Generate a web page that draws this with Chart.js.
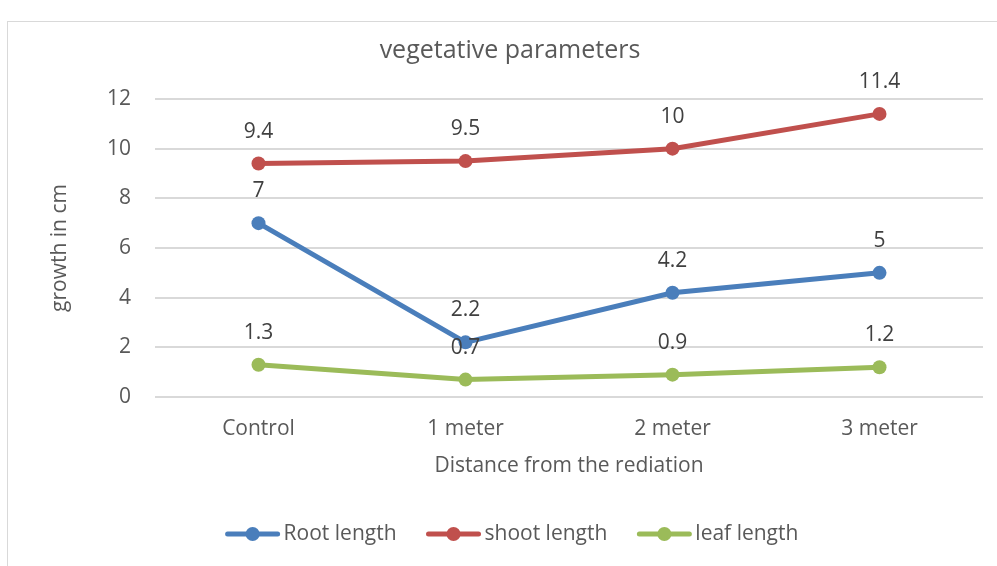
<!DOCTYPE html>
<html>
<head>
<meta charset="utf-8">
<script src="https://cdn.jsdelivr.net/npm/chart.js@4.4.1/dist/chart.umd.min.js"></script>
<style>
  html, body { margin: 0; padding: 0; background: #fff; overflow: hidden; }
  #frame { position: absolute; left: 7px; top: 21px; width: 1000px; height: 600px; border: 1px solid #d9d9d9; }
  #wrap { position: absolute; left: 0; top: 0; width: 997px; height: 566px; }
</style>
</head>
<body>
<div id="frame"></div>
<div id="wrap"><canvas id="chart"></canvas></div>
<script>
// Chart data
const chartTitle = 'vegetative parameters';
const categories = ['Control', '1 meter', '2 meter', '3 meter'];
const rootLength = [7, 2.2, 4.2, 5];
const shootLength = [9.4, 9.5, 10, 11.4];
const leafLength = [1.3, 0.7, 0.9, 1.2];
const yTicks = [0, 2, 4, 6, 8, 10, 12];

const COLORS = {
  root: '#4a7ebb',
  shoot: '#c0504d',
  leaf: '#9bbb59',
  text: '#595959',
  label: '#404040',
  grid: '#d9d9d9'
};
const FONT = "'Open Sans', 'Noto Sans', sans-serif";

// Title drawn by hand so it sits where the original one does
const titleText = {
  id: 'titleText',
  afterDraw(chart) {
    const ctx = chart.ctx;
    ctx.save();
    ctx.font = '25px ' + FONT;
    ctx.fillStyle = COLORS.text;
    ctx.textAlign = 'center';
    ctx.textBaseline = 'middle';
    ctx.fillText(chartTitle, 510, 51);
    ctx.restore();
  }
};

// Values above each point
const valueLabels = {
  id: 'valueLabels',
  afterDatasetsDraw(chart) {
    const ctx = chart.ctx;
    ctx.save();
    ctx.font = '21px ' + FONT;
    ctx.fillStyle = COLORS.label;
    ctx.textAlign = 'center';
    ctx.textBaseline = 'middle';
    chart.data.datasets.forEach((ds, i) => {
      chart.getDatasetMeta(i).data.forEach((pt, j) => {
        ctx.fillText(String(ds.data[j]), pt.x, pt.y - 32);
      });
    });
    ctx.restore();
  }
};

// Legend row at the bottom: line + dot marker, then the name
const lineLegend = {
  id: 'lineLegend',
  afterDraw(chart) {
    const ctx = chart.ctx;
    const y = 534;
    const markerW = 54, gap = 4, itemGap = 30;
    ctx.save();
    ctx.font = '21px ' + FONT;
    ctx.textBaseline = 'middle';
    const items = chart.data.datasets.map(ds => ({
      text: ds.label, color: ds.borderColor, w: ctx.measureText(ds.label).width
    }));
    const total = items.reduce((s, it) => s + markerW + gap + it.w, 0) + itemGap * (items.length - 1);
    let x = 512 - total / 2;
    items.forEach(it => {
      ctx.strokeStyle = it.color;
      ctx.lineWidth = 5;
      ctx.lineCap = 'round';
      ctx.beginPath(); ctx.moveTo(x + 2, y); ctx.lineTo(x + markerW - 2, y); ctx.stroke();
      ctx.fillStyle = it.color;
      ctx.beginPath(); ctx.arc(x + markerW / 2, y, 7, 0, Math.PI * 2); ctx.fill();
      ctx.fillStyle = COLORS.text;
      ctx.fillText(it.text, x + markerW + gap, y);
      x += markerW + gap + it.w + itemGap;
    });
    ctx.restore();
  }
};

function series(label, data, color) {
  return {
    label: label,
    data: data,
    borderColor: color,
    backgroundColor: color,
    borderWidth: 5,
    pointRadius: 7,
    pointHoverRadius: 7,
    pointBackgroundColor: color,
    pointBorderWidth: 0,
    tension: 0
  };
}

const ctx = document.getElementById('chart').getContext('2d');
new Chart(ctx, {
  type: 'line',
  data: {
    labels: categories,
    datasets: [
      series('Root length', rootLength, COLORS.root),
      series('shoot length', shootLength, COLORS.shoot),
      series('leaf length', leafLength, COLORS.leaf)
    ]
  },
  options: {
    responsive: true,
    maintainAspectRatio: false,
    animation: false,
    events: [],
    layout: { padding: { left: 0, right: 14, top: 99, bottom: 0 } },
    plugins: {
      title: { display: false },
      legend: { display: false },
      tooltip: { enabled: false }
    },
    scales: {
      x: {
        offset: true,
        grid: { display: false },
        border: { display: false },
        ticks: { color: COLORS.text, font: { family: FONT, size: 21 }, padding: 11, maxRotation: 0 },
        title: {
          display: true,
          text: 'Distance from the rediation',
          color: COLORS.text,
          font: { family: FONT, size: 21 },
          padding: { top: 0, bottom: 87 }
        },
        afterFit(scale) { scale.height = 169; }
      },
      y: {
        min: 0,
        max: 12,
        afterBuildTicks(scale) { scale.ticks = yTicks.map(v => ({ value: v })); },
        grid: { color: COLORS.grid, lineWidth: 2, drawTicks: false },
        border: { display: false },
        ticks: { color: COLORS.text, font: { family: FONT, size: 21 }, padding: 24 },
        title: {
          display: true,
          text: 'growth in cm',
          color: COLORS.text,
          font: { family: FONT, size: 21 },
          padding: { top: 47, bottom: 0 }
        },
        afterFit(scale) { scale.width = 155; }
      }
    }
  },
  plugins: [titleText, valueLabels, lineLegend]
});
</script>
</body>
</html>
